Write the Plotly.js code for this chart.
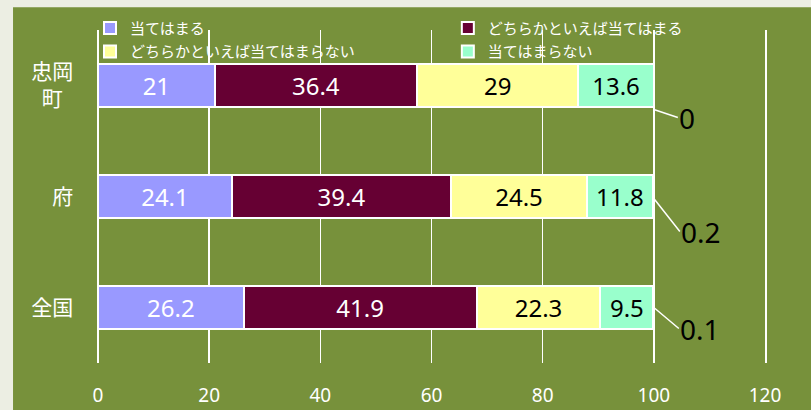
<!DOCTYPE html>
<html>
<head>
<meta charset="utf-8">
<script src="https://cdn.plot.ly/plotly-3.0.1.min.js"></script>
<style>html,body{margin:0;padding:0;background:#eceee3;}#chart{width:811px;height:410px;}</style>
</head>
<body>
<div id="chart"></div>
<script>
// ---- data ----
const categories = ["忠岡<br>町\u2002", "府", "全国"];
const seriesNames = ["当てはまる", "どちらかといえば当てはまる", "どちらかといえば当てはまらない", "当てはまらない", "無回答"];
const s1 = [21, 24.1, 26.2];     // 当てはまる
const s2 = [36.4, 39.4, 41.9];   // どちらかといえば当てはまる
const s3 = [29, 24.5, 22.3];     // どちらかといえば当てはまらない
const s4 = [13.6, 11.8, 9.5];    // 当てはまらない
const s5 = [0, 0.2, 0.1];        // 無回答
const xTicks = [0, 20, 40, 60, 80, 100, 120];

// ---- styles ----
const colors = ["#9999ff", "#660033", "#ffff99", "#99ffcc", "#b0c4de"];
const textColors = ["#ffffff", "#ffffff", "#000000", "#000000", "#000000"];
const legendOf = ["legend", "legend2", "legend", "legend2", "legend"];
const green = "#77913b";
const values = [s1, s2, s3, s4, s5];

const traces = values.map((vals, i) => ({
  type: "bar",
  orientation: "h",
  name: seriesNames[i],
  x: vals,
  y: categories,
  width: 0.385,
  marker: { color: colors[i], line: { color: "#ffffff", width: 2 } },
  text: vals.map(v => String(v)),
  textposition: i < 4 ? "inside" : "none",
  insidetextanchor: "middle",
  textangle: 0,
  constraintext: "none",
  insidetextfont: { family: "Noto Sans, Open Sans, sans-serif", size: 24, color: textColors[i] },
  hoverinfo: "name+x",
  showlegend: i < 4,
  legend: legendOf[i],
  legendgroup: "g" + i
}));

// leader-line labels for the small series (offsets are label placement only)
const labelOffsets = [
  { yshift: -24, ax: 24, ay: 8 },
  { yshift: -2, ax: 26, ay: 33 },
  { yshift: 0, ax: 25, ay: 21 }
];
const annotations = categories.map((c, k) => {
  const total = s1[k] + s2[k] + s3[k] + s4[k] + s5[k];
  return {
    x: total, y: c, xref: "x", yref: "y",
    text: String(s5[k]),
    showarrow: true, arrowhead: 0, arrowwidth: 1.5, arrowcolor: "#ffffff",
    ax: labelOffsets[k].ax, ay: labelOffsets[k].ay,
    yshift: labelOffsets[k].yshift,
    xanchor: "left", yanchor: "middle",
    standoff: 0, borderpad: 0,
    font: { family: "Noto Sans, Open Sans, sans-serif", size: 28, color: "#000000" }
  };
});

const legendFont = { family: "Noto Sans CJK JP, sans-serif", size: 15, color: "#ffffff" };
const layout = {
  width: 811, height: 410,
  margin: { l: 98, r: 46, t: 28, b: 47, pad: 0 },
  paper_bgcolor: "#eceee3",
  plot_bgcolor: "rgba(0,0,0,0)",
  barmode: "stack",
  bargap: 0.6,
  shapes: [{
    type: "rect", xref: "paper", yref: "paper", layer: "below",
    x0: -0.1274, x1: 1.2, y0: -0.5, y1: 1.0685,
    fillcolor: green, line: { width: 0 }
  }],
  xaxis: {
    range: [0, 120],
    tickvals: xTicks, ticktext: xTicks.map(String),
    showgrid: true, gridcolor: "#ffffff", gridwidth: 1.5,
    zeroline: true, zerolinecolor: "#ffffff", zerolinewidth: 1.5,
    showline: false, ticks: "",
    ticklabelstandoff: 19,
    tickfont: { family: "Noto Sans, Open Sans, sans-serif", size: 19, color: "#ffffff" },
    fixedrange: true
  },
  yaxis: {
    type: "category",
    categoryorder: "array", categoryarray: categories,
    range: [2.5, -0.5],
    showgrid: false, zeroline: false, ticks: "",
    showline: true, mirror: true, linecolor: "#ffffff", linewidth: 1.5,
    ticklabelstandoff: 19,
    tickfont: { family: "Noto Sans CJK JP, sans-serif", size: 21, color: "#ffffff" },
    fixedrange: true
  },
  legend: {
    orientation: "v", x: -0.012, xanchor: "left", y: 1.055, yanchor: "top",
    bgcolor: "rgba(0,0,0,0)", borderwidth: 0, font: legendFont,
    tracegroupgap: 1, itemclick: false, itemdoubleclick: false
  },
  legend2: {
    orientation: "v", x: 0.5245, xanchor: "left", y: 1.055, yanchor: "top",
    bgcolor: "rgba(0,0,0,0)", borderwidth: 0, font: legendFont,
    tracegroupgap: 1, itemclick: false, itemdoubleclick: false
  },
  annotations: annotations,
  hovermode: false
};

Plotly.newPlot("chart", traces, layout, { displayModeBar: false, staticPlot: true });
</script>
</body>
</html>
